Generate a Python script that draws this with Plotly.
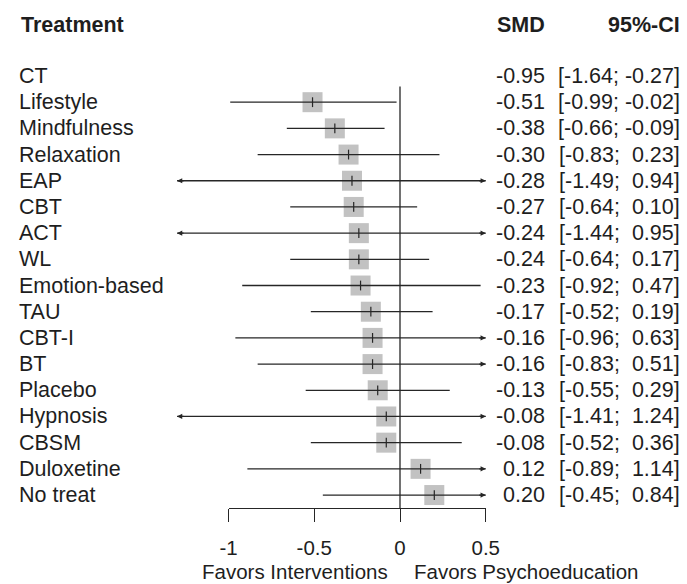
import plotly.graph_objects as go

# Network meta-analysis results versus psychoeducation
treatments = ["CT", "Lifestyle", "Mindfulness", "Relaxation", "EAP", "CBT", "ACT", "WL",
              "Emotion-based", "TAU", "CBT-I", "BT", "Placebo", "Hypnosis", "CBSM",
              "Duloxetine", "No treat"]
smd = [-0.95, -0.51, -0.38, -0.30, -0.28, -0.27, -0.24, -0.24, -0.23, -0.17, -0.16,
       -0.16, -0.13, -0.08, -0.08, 0.12, 0.20]
ci_low = [-1.64, -0.99, -0.66, -0.83, -1.49, -0.64, -1.44, -0.64, -0.92, -0.52, -0.96,
          -0.83, -0.55, -1.41, -0.52, -0.89, -0.45]
ci_high = [-0.27, -0.02, -0.09, 0.23, 0.94, 0.10, 0.95, 0.17, 0.47, 0.19, 0.63, 0.51,
           0.29, 1.24, 0.36, 1.14, 0.84]
# rows whose square and interval are drawn in the plot panel
plotted = [False] + [True] * 16

tick_vals = [-1, -0.5, 0, 0.5]
tick_text = ["-1", "-0.5", "0", "0.5"]
x_limits = (-1.3, 0.5)

# page geometry
W, H = 687, 584
X0_PX, UNIT_PX = 400.0, 171.5        # pixel of SMD = 0, pixels per SMD unit
ROW0_PX, ROW_PX = 76.0, 26.19        # pixel of first row, row spacing
AXIS_PX = 508.0                      # pixel height of the bottom axis line

FONT = "Liberation Sans, Arial, Helvetica, sans-serif"
FS = 21.5
FS_AXIS = 20.5
TXT = "#1e1e1e"
LINE = "#262626"


def row_of(px):
    return (px - ROW0_PX) / ROW_PX


def xpaper(px):
    return px / W


rows = list(range(len(treatments)))

fig = go.Figure()

# grey squares
fig.add_trace(go.Scatter(
    x=[v for v, p in zip(smd, plotted) if p],
    y=[r for r, p in zip(rows, plotted) if p],
    mode="markers",
    marker=dict(symbol="square", size=20, color="#c2c2c2", line=dict(width=0)),
    hoverinfo="skip", showlegend=False,
))

# confidence interval segments, truncated at the plot limits
seg_x, seg_y = [], []
arrows = []
for r, lo, hi, p in zip(rows, ci_low, ci_high, plotted):
    if not p:
        continue
    a = max(lo, x_limits[0])
    b = min(hi, x_limits[1])
    seg_x += [a, b, None]
    seg_y += [r, r, None]
    if lo < x_limits[0]:
        arrows.append((a, r, 1))
    if hi > x_limits[1]:
        arrows.append((b, r, -1))

fig.add_trace(go.Scatter(
    x=seg_x, y=seg_y, mode="lines",
    line=dict(color=LINE, width=1.3),
    hoverinfo="skip", showlegend=False,
))

# small tick at each point estimate
fig.add_trace(go.Scatter(
    x=[v for v, p in zip(smd, plotted) if p],
    y=[r for r, p in zip(rows, plotted) if p],
    mode="markers",
    marker=dict(symbol="line-ns", size=7, line=dict(width=1.2, color=LINE)),
    hoverinfo="skip", showlegend=False,
))

# hidden trace so the axis subplot is created
fig.add_trace(go.Scatter(
    x=tick_vals, y=[0] * len(tick_vals), xaxis="x2", yaxis="y2",
    mode="markers", marker=dict(opacity=0), hoverinfo="skip", showlegend=False,
))

annotations = []
for x, r, d in arrows:
    annotations.append(dict(
        x=x, y=r, xref="x", yref="y", ax=8 * d, ay=0, text="",
        showarrow=True, arrowhead=2, arrowsize=0.8, arrowwidth=1.3, arrowcolor=LINE,
    ))

# headers
annotations += [
    dict(x=xpaper(19), y=row_of(25), xref="paper", yref="y", text="<b>Treatment</b>",
         xanchor="left", yanchor="middle", showarrow=False),
    dict(x=xpaper(547), y=row_of(25), xref="paper", yref="y", text="<b>SMD</b>",
         xanchor="right", yanchor="middle", showarrow=False),
    dict(x=xpaper(682), y=row_of(25), xref="paper", yref="y", text="<b>95%-CI</b>",
         xanchor="right", yanchor="middle", showarrow=False),
]

# table columns
for r, name, v, lo, hi in zip(rows, treatments, smd, ci_low, ci_high):
    ci = f"[{lo:.2f}; {hi:5.2f}]".replace(" ", "\u00a0")
    annotations += [
        dict(x=xpaper(17), y=r, xref="paper", yref="y", text=name,
             xanchor="left", yanchor="middle", showarrow=False),
        dict(x=xpaper(547), y=r, xref="paper", yref="y", text=f"{v:.2f}",
             xanchor="right", yanchor="middle", showarrow=False),
        dict(x=xpaper(682), y=r, xref="paper", yref="y", text=ci,
             xanchor="right", yanchor="middle", showarrow=False),
    ]

# direction labels
annotations += [
    dict(x=xpaper(390), y=(H - 571) / H, xref="paper", yref="paper",
         text="Favors Interventions", xanchor="right", yanchor="middle",
         showarrow=False, font=dict(size=FS_AXIS)),
    dict(x=xpaper(412), y=(H - 571) / H, xref="paper", yref="paper",
         text="Favors Psychoeducation", xanchor="left", yanchor="middle",
         showarrow=False, font=dict(size=FS_AXIS)),
]

# reference line at zero
shapes = [dict(type="line", xref="x", yref="y", x0=0, x1=0,
               y0=0.4, y1=row_of(AXIS_PX), line=dict(color=LINE, width=1.3))]

fig.update_layout(
    width=W, height=H,
    margin=dict(l=0, r=0, t=0, b=0, autoexpand=False),
    paper_bgcolor="white", plot_bgcolor="rgba(0,0,0,0)",
    font=dict(family=FONT, size=FS, color=TXT),
    xaxis=dict(domain=[0, 1], range=[-X0_PX / UNIT_PX, (W - X0_PX) / UNIT_PX],
               visible=False, fixedrange=True),
    yaxis=dict(domain=[0, 1], range=[row_of(H), row_of(0)],
               visible=False, fixedrange=True),
    xaxis2=dict(domain=[xpaper(X0_PX - UNIT_PX), xpaper(X0_PX + 0.5 * UNIT_PX)],
                range=[-1, 0.5], anchor="y2",
                tickmode="array", tickvals=tick_vals, ticktext=tick_text,
                ticks="outside", ticklen=13, tickwidth=1.3, tickcolor=LINE,
                showline=True, linecolor=LINE, linewidth=1.3,
                showgrid=False, zeroline=False, ticklabelstandoff=8,
                tickfont=dict(family=FONT, size=FS_AXIS, color=TXT), fixedrange=True),
    yaxis2=dict(domain=[(H - AXIS_PX) / H, (H - AXIS_PX + 20) / H], anchor="x2",
                visible=False, fixedrange=True),
    annotations=annotations,
    shapes=shapes,
)

fig.write_html("out.html")
